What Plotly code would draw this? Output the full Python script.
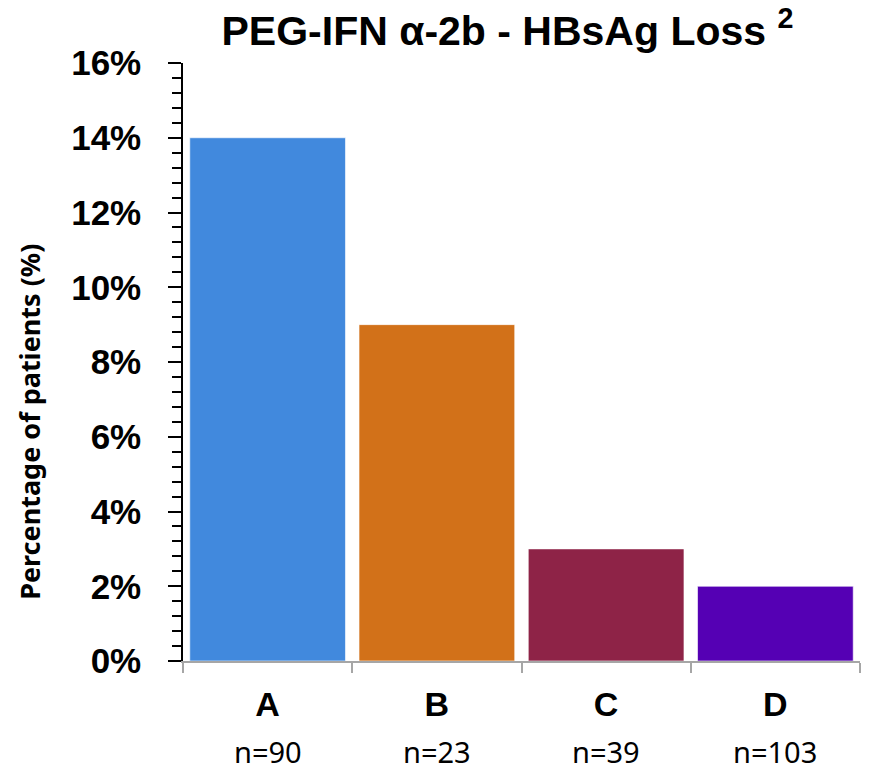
import plotly.graph_objects as go

# Chart data
categories = ["A", "B", "C", "D"]
hbsag_loss = [0.14, 0.09, 0.03, 0.02]
sample_sizes = ["n=90", "n=23", "n=39", "n=103"]
bar_colors = ["#4189DD", "#D27119", "#8E2347", "#5500B4"]
y_ticks = [0, 0.02, 0.04, 0.06, 0.08, 0.10, 0.12, 0.14, 0.16]
y_title = "Percentage of patients (%)"

fig = go.Figure(
    go.Bar(
        x=categories,
        y=hbsag_loss,
        marker=dict(color=bar_colors, line=dict(color="rgba(255,255,255,0.6)", width=1)),
        width=0.92,
    )
)

# Sample size labels under each category
for cat, n in zip(categories, sample_sizes):
    fig.add_annotation(
        x=cat, xref="x", y=-0.188, yref="paper", text=n, showarrow=False,
        font=dict(family="Noto Sans, Open Sans, sans-serif", size=29, color="black"),
        xanchor="center", yanchor="bottom",
    )

# Vertical axis title, set a little below the plot's middle
fig.add_annotation(
    x=-0.226, xref="paper", y=0.40, yref="paper",
    text="<b>%s</b>" % y_title, textangle=-90, showarrow=False,
    font=dict(family="Noto Sans, Open Sans, sans-serif", size=27, color="black"),
    xanchor="center", yanchor="middle",
)

fig.update_layout(
    width=869, height=775,
    margin=dict(l=183, r=9, t=63, b=114),
    paper_bgcolor="white", plot_bgcolor="white",
    showlegend=False,
    title=dict(
        text="<b>PEG-IFN α-2b - HBsAg Loss <sup>2</sup></b>",
        x=0.584, xref="container", xanchor="center",
        y=0.96, yref="container", yanchor="middle",
        font=dict(family="Liberation Sans, Arial, sans-serif", size=41, color="black"),
    ),
    xaxis=dict(
        type="category",
        tickson="boundaries",
        ticks="outside", ticklen=10, tickcolor="#A6A6A6", tickwidth=1.5,
        showline=True, linecolor="#A6A6A6", linewidth=2,
        tickfont=dict(family="Liberation Sans, Arial, sans-serif", size=34, color="black", weight="bold"),
        tickvals=categories,
        ticktext=categories,
        ticklabelstandoff=12,
        showgrid=False, fixedrange=True,
    ),
    yaxis=dict(
        range=[0, 0.16],
        tickvals=y_ticks,
        tickformat=".0%",
        ticks="outside", ticklen=13, tickcolor="black", tickwidth=1.5,
        minor=dict(dtick=0.004, ticks="outside", ticklen=9, tickcolor="black", tickwidth=1.5),
        showline=True, linecolor="black", linewidth=1.5,
        tickfont=dict(family="Liberation Sans, Arial, sans-serif", size=35, color="black", weight="bold"),
        ticklabelstandoff=20,
        showgrid=False, zeroline=False,
    ),
)

fig.write_html("out.html")
